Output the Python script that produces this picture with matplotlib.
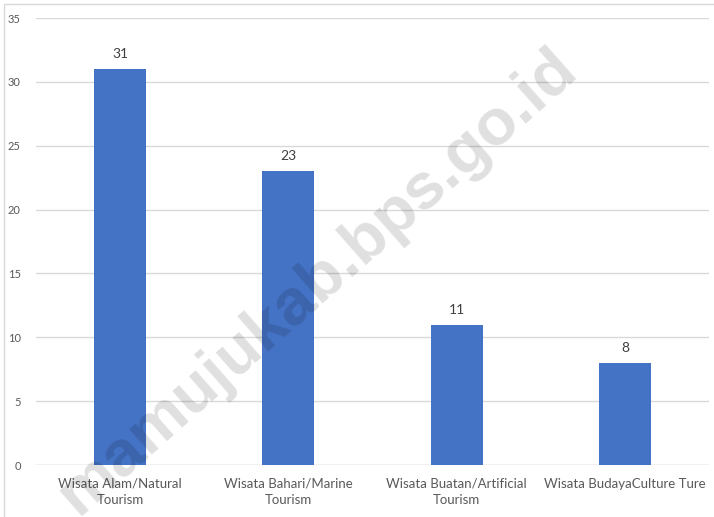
import matplotlib
matplotlib.use("Agg")
import matplotlib.pyplot as plt
from matplotlib.patches import Rectangle

# data
categories = ["Wisata Alam/Natural\nTourism", "Wisata Bahari/Marine\nTourism",
              "Wisata Buatan/Artificial\nTourism", "Wisata BudayaCulture Ture"]
values = [31, 23, 11, 8]
yticks = [0, 5, 10, 15, 20, 25, 30, 35]

plt.rcParams['font.family'] = ['Lato', 'DejaVu Sans']

fig = plt.figure(figsize=(7.14, 5.17), dpi=100)
ax = fig.add_axes([36 / 714, 1 - 465 / 517, 673 / 714, 447 / 517])

x = range(len(categories))
bars = ax.bar(x, values, width=0.31, color='#4472C4', zorder=2)
for b, v in zip(bars, values):
    ax.text(b.get_x() + b.get_width() / 2, v + 0.7, str(v), ha='center', va='bottom',
            fontsize=10, color='#404040')

ax.set_xlim(-0.5, 3.5)
ax.set_ylim(0, 35)
ax.set_yticks(yticks)
ax.set_xticks(list(x))
ax.set_xticklabels(categories, fontsize=9.5, color='#595959', linespacing=1.4)
ax.tick_params(axis='y', labelsize=8, labelcolor='#595959', length=0, pad=11)
ax.tick_params(axis='x', length=0, pad=9)
ax.grid(axis='y', color='#d9d9d9', linewidth=1, zorder=0)
for s in ax.spines.values():
    s.set_visible(False)
ax.axhline(0, color='#d9d9d9', linewidth=1, zorder=1)

# light border around the whole chart
fig.patches.append(Rectangle((4 / 714, -0.01), 1, 1 - 4 / 517 + 0.01, transform=fig.transFigure,
                             fill=False, edgecolor='#d9d9d9', linewidth=1))

# watermark
fig.text(318 / 714, 1 - 282 / 517, "mamujukab.bps.go.id", rotation=41.5,
         ha='center', va='center', fontsize=47, fontweight='bold',
         family='Liberation Sans', color='black', alpha=0.125, zorder=10)

fig.savefig("out.png", dpi=100)
